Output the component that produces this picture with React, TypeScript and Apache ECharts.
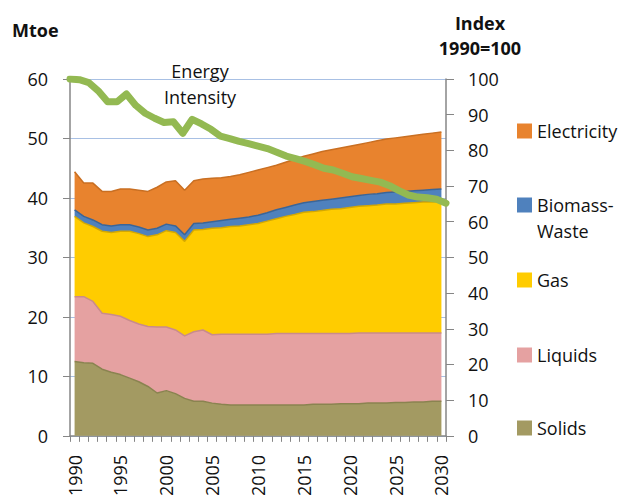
import React, { useEffect, useRef } from "react";
import * as echarts from "echarts";

const years: string[] = [];
for (let y = 1990; y <= 2030; y++) years.push(String(y));

const solids = [12.5, 12.3, 12.2, 11.2, 10.7, 10.3, 9.7, 9.1, 8.3, 7.2, 7.6, 7.1, 6.3, 5.8, 5.8, 5.5, 5.3, 5.2, 5.2, 5.2, 5.2, 5.2, 5.2, 5.2, 5.2, 5.2, 5.3, 5.3, 5.3, 5.4, 5.4, 5.4, 5.5, 5.5, 5.5, 5.6, 5.6, 5.7, 5.7, 5.8, 5.8];
const liquids = [10.9, 11.1, 10.4, 9.4, 9.7, 9.8, 9.7, 9.7, 10.1, 11.1, 10.7, 10.7, 10.5, 11.7, 12.0, 11.5, 11.8, 11.9, 11.9, 11.9, 11.9, 11.9, 12.0, 12.0, 12.0, 12.0, 11.9, 11.9, 11.9, 11.8, 11.8, 11.9, 11.8, 11.8, 11.8, 11.7, 11.7, 11.6, 11.6, 11.5, 11.5];
const gas = [13.5, 12.4, 12.6, 13.8, 13.8, 14.3, 15.0, 15.2, 15.1, 15.5, 16.2, 16.4, 15.9, 17.1, 16.9, 17.9, 17.9, 18.1, 18.2, 18.4, 18.6, 19.0, 19.3, 19.7, 20.0, 20.4, 20.5, 20.7, 20.9, 21.0, 21.2, 21.3, 21.4, 21.5, 21.7, 21.7, 21.8, 21.9, 22.0, 22.0, 22.1];
const biomass = [1.1, 1.1, 1.1, 1.1, 1.1, 1.1, 1.1, 1.1, 1.1, 1.1, 1.1, 1.1, 1.1, 1.1, 1.1, 1.1, 1.2, 1.2, 1.3, 1.3, 1.4, 1.4, 1.5, 1.5, 1.6, 1.6, 1.7, 1.7, 1.7, 1.8, 1.8, 1.8, 1.9, 1.9, 1.9, 2.0, 2.0, 2.0, 2.0, 2.1, 2.1];
const electricity = [6.4, 5.6, 6.2, 5.6, 5.8, 6.0, 6.0, 6.2, 6.5, 6.9, 7.1, 7.6, 7.5, 7.2, 7.4, 7.3, 7.2, 7.2, 7.3, 7.5, 7.6, 7.6, 7.5, 7.6, 7.7, 7.8, 8.0, 8.2, 8.3, 8.4, 8.5, 8.6, 8.7, 8.9, 9.0, 9.1, 9.2, 9.3, 9.4, 9.5, 9.6];
const intensity = [100, 99.8, 99.0, 96.7, 93.6, 93.6, 95.8, 92.6, 90.4, 89.0, 87.8, 88.0, 84.8, 88.7, 87.4, 85.9, 84.0, 83.3, 82.5, 81.9, 81.2, 80.5, 79.5, 78.4, 77.7, 76.9, 76.0, 75.0, 74.5, 73.6, 72.6, 72.1, 71.6, 71.1, 70.1, 68.7, 67.5, 66.9, 66.7, 66.3, 65.2];

const FONT = "Open Sans";

export default function App() {
  const ref = useRef<HTMLDivElement>(null);
  useEffect(() => {
    if (!ref.current) return;
    const chart = echarts.init(ref.current, null, { renderer: "svg" });

    const area = (name: string, data: number[], color: string, line: string) => ({
      name,
      type: "line",
      stack: "total",
      data,
      xAxisIndex: 0,
      yAxisIndex: 0,
      symbol: "none",
      lineStyle: { color: line, width: 1.5 },
      itemStyle: { color },
      areaStyle: { color, opacity: 1 },
      z: 2,
    });

    const legendItem = (name: string, top: number, extra: any = {}) => ({
      data: [name],
      orient: "vertical",
      left: 517,
      top,
      padding: 0,
      itemWidth: 15,
      itemHeight: 15,
      icon: "rect",
      textStyle: { fontFamily: FONT, fontSize: 18, color: "#111", lineHeight: 20, ...(extra.textStyle || {}) },
      ...(extra.formatter ? { formatter: extra.formatter } : {}),
      selectedMode: false,
    });

    chart.setOption({
      animation: false,
      textStyle: { fontFamily: FONT },
      grid: { left: 70, right: 178, top: 79, bottom: 63, containLabel: false },
      xAxis: [
        {
          type: "category",
          data: years,
          boundaryGap: true,
          axisLine: { lineStyle: { color: "#868686", width: 1.5 } },
          axisTick: { show: true, interval: 0, length: 6, lineStyle: { color: "#868686" } },
          axisLabel: { interval: 4, rotate: 90, margin: 19, fontSize: 18, color: "#111", fontFamily: FONT },
        },
        {
          type: "category",
          data: years,
          boundaryGap: false,
          position: "bottom",
          show: false,
        },
      ],
      yAxis: [
        {
          type: "value",
          min: 0,
          max: 60,
          interval: 10,
          axisLine: { show: true, lineStyle: { color: "#868686", width: 1.5 } },
          axisTick: { show: true, length: 7, lineStyle: { color: "#868686" } },
          axisLabel: { fontSize: 18, color: "#111", margin: 22, fontFamily: FONT },
          splitLine: { show: true, lineStyle: { color: "#A8C0E4", width: 1 } },
        },
        {
          type: "value",
          min: 0,
          max: 100,
          interval: 10,
          position: "right",
          axisLine: { show: true, lineStyle: { color: "#868686", width: 1.5 } },
          axisTick: { show: true, length: 8, lineStyle: { color: "#868686" } },
          axisLabel: { fontSize: 18, color: "#111", margin: 22, fontFamily: FONT },
          splitLine: { show: false },
        },
      ],
      legend: [
        legendItem("Electricity", 121),
        legendItem("Biomass-Waste", 166, {
          formatter: () => "\nBiomass-\nWaste",
          textStyle: { lineHeight: 26 },
        }),
        legendItem("Gas", 270),
        legendItem("Liquids", 345),
        legendItem("Solids", 418),
      ],
      graphic: [
        {
          type: "text",
          left: 12,
          top: 21,
          style: { text: "Mtoe", fontFamily: FONT, fontSize: 18, fontWeight: "bold", fill: "#111" },
        },
        {
          type: "text",
          x: 480,
          y: 35,
          style: {
            text: "Index\n1990=100",
            fontFamily: FONT,
            fontSize: 18,
            fontWeight: "bold",
            fill: "#111",
            align: "center",
            verticalAlign: "middle",
            lineHeight: 25,
          },
        },
        {
          type: "text",
          x: 200,
          y: 84,
          z: 10,
          style: {
            text: "Energy\nIntensity",
            fontFamily: FONT,
            fontSize: 18,
            fill: "#111",
            align: "center",
            verticalAlign: "middle",
            lineHeight: 26,
          },
        },
      ],
      series: [
        area("Solids", solids, "#A39A62", "#8A8350"),
        area("Liquids", liquids, "#E5A1A1", "#C98B8B"),
        area("Gas", gas, "#FFCC00", "#D4A800"),
        area("Biomass-Waste", biomass, "#4F81BD", "#3A6598"),
        area("Electricity", electricity, "#E8832E", "#C96F22"),
        {
          name: "Energy Intensity",
          type: "line",
          data: intensity,
          xAxisIndex: 1,
          yAxisIndex: 1,
          symbol: "none",
          lineStyle: { color: "#93B952", width: 7, join: "round", cap: "round" },
          itemStyle: { color: "#93B952" },
          z: 5,
        },
      ],
    });
    return () => chart.dispose();
  }, []);
  return <div ref={ref} style={{ position: "absolute", left: 0, top: 0, width: 624, height: 499 }} />;
}
